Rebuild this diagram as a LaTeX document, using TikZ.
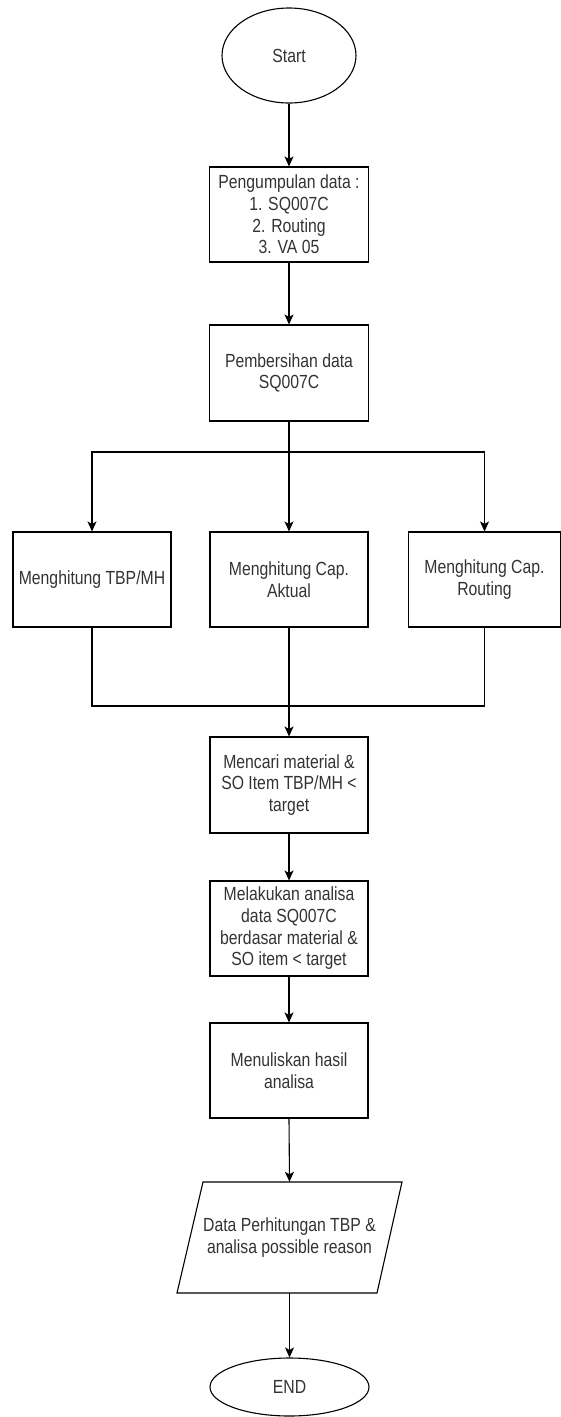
\documentclass[tikz,border=0pt]{standalone}
\usepackage{fontspec}
\setmainfont{Liberation Sans}[FakeStretch=0.83]
\usetikzlibrary{shapes.geometric,arrows.meta}
\definecolor{txt}{HTML}{333333}
\begin{document}
\begin{tikzpicture}[x=1pt,y=-1pt,
  every node/.style={font=\fontsize{19}{21.7}\selectfont, text=txt, align=center, inner sep=0pt},
  term/.style={ellipse, draw, line width=1.1pt},
  procbox/.style={rectangle, draw, line width=1.1pt, minimum width=159, minimum height=95},
  link/.style={line width=1.1pt},
  arr/.style={link, -{Stealth[length=10pt,width=9pt,inset=2.5pt]}}]
\useasboundingbox (0,0) rectangle (561,1417);
\node[term, minimum width=134, minimum height=95] (start) at (289,55.5) {Start};
\node[procbox] (b1) at (289,214.5) {Pengumpulan data :\\1. SQ007C\\2. Routing\\3. VA 05};
\node[procbox, minimum height=96] (b2) at (289,373) {Pembersihan data\\SQ007C};
\node[procbox, minimum width=158] (l) at (92,579.5) {Menghitung TBP/MH};
\node[procbox, minimum width=158] (m) at (289,579.5) {Menghitung Cap.\\Aktual};
\node[procbox, minimum width=152] (r) at (484.5,579.5) {Menghitung Cap.\\Routing};
\node[procbox, minimum width=158, minimum height=96] (m3) at (289,785) {Mencari material \&\\SO Item TBP/MH <\\target};
\node[procbox, minimum width=158, minimum height=95] (m4) at (289,928.5) {Melakukan analisa\\data SQ007C\\berdasar material \&\\SO item < target};
\node[procbox, minimum width=158, minimum height=95] (m5) at (289,1070.5) {Menuliskan hasil\\analisa};
\node[minimum width=200, minimum height=111] (out) at (289.5,1237.5) {Data Perhitungan TBP \&\\analisa possible reason};
\draw[link] ([shift={(-86.5,-55.5)}]out.center) -- ([shift={(112.5,-55.5)}]out.center)
  -- ([shift={(87.5,55.5)}]out.center) -- ([shift={(-112.5,55.5)}]out.center) -- cycle;
\node[term, minimum width=159, minimum height=58] (end) at (289.5,1387) {END};
\coordinate (split) at (289,452);
\coordinate (join) at (289,706);
\draw[arr] (start) -- (b1);
\draw[arr] (b1) -- (b2);
\draw[link] (b2.south) -- (split);
\draw[arr] (split) -| (l.north);
\draw[arr] (split) -- (m.north);
\draw[arr] (split) -| (r.north);
\draw[link] (l.south) |- (join);
\draw[link] (r.south) |- (join);
\draw[link] (m.south) -- (join);
\draw[arr] (join) -- (m3.north);
\draw[arr] (m3) -- (m4);
\draw[arr] (m4) -- (m5);
\draw[arr] (m5.south) -- (out.north);
\draw[arr] (out.south) -- (end.north);
\end{tikzpicture}
\end{document}
